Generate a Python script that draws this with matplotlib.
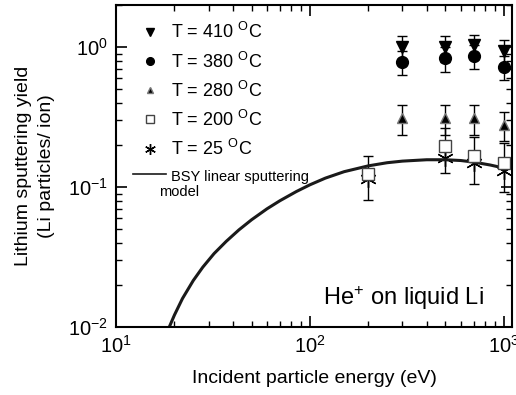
import matplotlib
matplotlib.use("Agg")
import matplotlib.pyplot as plt

plt.rcParams["font.family"] = ["Liberation Sans", "DejaVu Sans"]
plt.rcParams["mathtext.default"] = "regular"

# energias (eV) de las medidas
energia = [300, 500, 700, 1000]
energia_bajas = [200, 500, 700, 1000]

# T = 410 C
y_410 = [1.00, 1.00, 1.03, 0.94]
err_410 = [0.21, 0.21, 0.20, 0.18]
# T = 380 C
y_380 = [0.785, 0.84, 0.865, 0.72]
err_380 = [0.15, 0.17, 0.17, 0.14]
# T = 280 C
y_280 = [0.31, 0.31, 0.31, 0.28]
err_280 = [0.075, 0.075, 0.075, 0.065]
# T = 200 C
y_200 = [0.124, 0.196, 0.167, 0.149]
err_200 = [0.043, 0.069, 0.062, 0.057]
# T = 25 C
y_25 = [0.114, 0.161, 0.148, 0.131]

# modelo BSY
e_bsy = [18.8, 20, 22, 25, 28, 32, 37, 43, 50, 60, 70, 85, 100, 120, 150,
         200, 250, 300, 400, 500, 600, 700, 850, 1000]
y_bsy = [0.0100, 0.0122, 0.0160, 0.0215, 0.0268, 0.0335, 0.0410, 0.0495, 0.0585,
         0.0700, 0.0800, 0.0930, 0.1040, 0.1160, 0.1290, 0.1420, 0.1495, 0.1535,
         0.1570, 0.1570, 0.1550, 0.1510, 0.1440, 0.1370]

etiquetas = ["T = 410 $^{O}$C", "T = 380 $^{O}$C", "T = 280 $^{O}$C",
             "T = 200 $^{O}$C", "T = 25 $^{O}$C", "BSY linear sputtering"]

fig = plt.figure(figsize=(5.16, 3.95), dpi=100)
ax = fig.add_axes([0.225, 0.172, 0.767, 0.815])

ek = dict(ecolor="black", elinewidth=1, capsize=3.5, capthick=1, linestyle="none")

c410 = ax.errorbar(energia, y_410, yerr=err_410, marker="v", ms=8, mfc="black",
                   mec="black", **ek)
c380 = ax.errorbar(energia, y_380, yerr=err_380, marker="o", ms=8.5, mfc="black",
                   mec="black", **ek)
c280 = ax.errorbar(energia, y_280, yerr=err_280, marker="^", ms=7, mfc="black",
                   mec="#777777", **ek)
c200 = ax.errorbar(energia_bajas, y_200, yerr=err_200, marker="s", ms=8.5, mfc="white",
                   mec="#444444", **ek)
l25, = ax.plot(energia_bajas, y_25, linestyle="none", marker=(6, 2, 0), ms=12,
               color="black", mew=1)
lbsy, = ax.plot(e_bsy, y_bsy, color="#1a1a1a", lw=2.2)

ax.set_xscale("log")
ax.set_yscale("log")
ax.set_xlim(10, 1100)
ax.set_ylim(0.01, 2)

for s in ax.spines.values():
    s.set_linewidth(1.5)
ax.tick_params(which="both", direction="in", top=True, right=True, labelsize=14.5)
ax.tick_params(which="major", length=8, width=1.2, pad=6)
ax.tick_params(which="minor", length=4, width=1)

ax.set_xlabel("Incident particle energy (eV)", fontsize=14, labelpad=9)
ax.set_ylabel("Lithium sputtering yield\n(Li particles/ ion)", fontsize=14,
              labelpad=9, linespacing=1.45)

ax.text(0.727, 0.07, "He$^{+}$ on liquid Li", transform=ax.transAxes,
        ha="center", va="baseline", fontsize=17)

handles = [c410[0], c380[0], c280[0], c200[0], l25, lbsy]
leg = ax.legend(handles, etiquetas, loc="upper left", frameon=False, fontsize=13,
                markerscale=0.65, handlelength=1.8, labelspacing=0.5,
                borderaxespad=0.55, handletextpad=0.3)
leg.get_texts()[5].set_fontsize(10.5)
leg.legend_handles[5].set_linewidth(1.2)

ax.text(0.109, 0.42, "model", transform=ax.transAxes, fontsize=10.5,
        ha="left", va="center")

fig.savefig("out.png", dpi=100)
